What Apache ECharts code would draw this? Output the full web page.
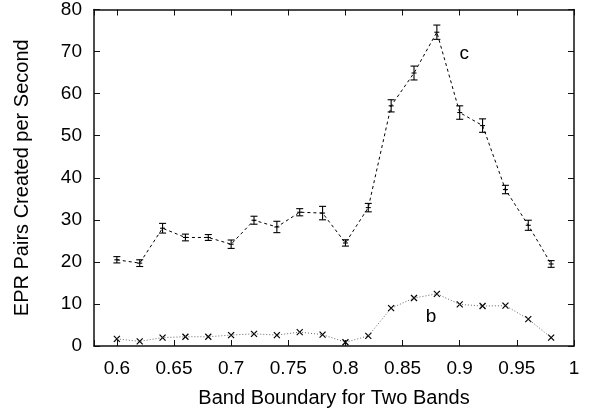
<!DOCTYPE html>
<html>
<head>
<meta charset="utf-8">
<script src="https://cdn.jsdelivr.net/npm/echarts@6/dist/echarts.min.js"></script>
<style>
html,body{margin:0;padding:0;background:#fff;}
#chart{width:593px;height:415px;}
</style>
</head>
<body>
<div id="chart"></div>
<script>
const xValues = [0.60,0.62,0.64,0.66,0.68,0.70,0.72,0.74,0.76,0.78,0.80,0.82,0.84,0.86,0.88,0.90,0.92,0.94,0.96,0.98];
const cValues = [20.5,19.7,28.0,25.8,25.8,24.2,29.9,28.3,31.8,31.6,24.5,32.9,57.1,64.9,74.6,55.5,52.4,37.2,28.7,19.5];
const cErrors = [0.75,0.8,1.15,0.8,0.7,1.0,0.95,1.35,0.85,1.6,0.75,1.0,1.45,1.65,1.7,1.6,1.6,1.0,1.2,0.8];
const bValues = [1.7,1.1,2.0,2.2,2.2,2.6,2.9,2.6,3.3,2.7,0.9,2.4,9.0,11.4,12.4,9.9,9.5,9.6,6.4,2.0];
const xTitle = 'Band Boundary for Two Bands';
const yTitle = 'EPR Pairs Created per Second';
const curveLabels = [{text:'c', x:0.904, y:69.5},{text:'b', x:0.875, y:6.9}];

const FONT = 'Liberation Sans';
const chart = echarts.init(document.getElementById('chart'), null, {renderer:'canvas'});

const cData = xValues.map((x,i)=>[x, cValues[i], cErrors[i]]);
const bData = xValues.map((x,i)=>[x, bValues[i]]);

function fmtX(v){
  const r = Math.round(v*100);
  if (r % 5 !== 0) return '';
  return String(+v.toFixed(2));
}
const axisLineStyle = {color:'#111', width:1.5};
const commonX = {type:'value', min:0.58, max:1.0, minInterval:0.05, maxInterval:0.05, splitLine:{show:false}};
const commonY = {type:'value', min:0, max:80, interval:10, splitLine:{show:false}};

const option = {
  animation:false,
  backgroundColor:'#fff',
  grid:{left:94, right:19, top:7, bottom:69},
  xAxis:[
    Object.assign({}, commonX, {position:'bottom', name:xTitle, nameLocation:'middle', nameGap:42,
      nameTextStyle:{fontFamily:FONT, fontSize:20, color:'#000'},
      axisLine:{show:true, onZero:false, lineStyle:axisLineStyle},
      axisTick:{show:true, inside:true, length:6, lineStyle:{color:'#111', width:1}},
      axisLabel:{fontFamily:FONT, fontSize:19, color:'#000', margin:13, formatter:fmtX}}),
    Object.assign({}, commonX, {position:'top',
      axisLine:{show:true, onZero:false, lineStyle:axisLineStyle},
      axisTick:{show:true, inside:true, length:6, lineStyle:{color:'#111', width:1}},
      axisLabel:{show:false}})
  ],
  yAxis:[
    Object.assign({}, commonY, {position:'left', name:yTitle, nameLocation:'middle', nameGap:62,
      nameTextStyle:{fontFamily:FONT, fontSize:20, color:'#000'},
      axisLine:{show:true, onZero:false, lineStyle:axisLineStyle},
      axisTick:{show:true, inside:true, length:6, lineStyle:{color:'#111', width:1}},
      axisLabel:{fontFamily:FONT, fontSize:19, color:'#000', margin:12}}),
    Object.assign({}, commonY, {position:'right',
      axisLine:{show:true, onZero:false, lineStyle:axisLineStyle},
      axisTick:{show:true, inside:true, length:6, lineStyle:{color:'#111', width:1}},
      axisLabel:{show:false}})
  ],
  series:[
    {
      type:'line', data:cData.map(d=>[d[0],d[1]]), symbol:'none',
      lineStyle:{color:'#000', width:1, type:[3,3]},
      markPoint:{
        symbol:'circle', symbolSize:0,
        label:{show:true, fontFamily:FONT, fontSize:19, color:'#000', position:'inside'},
        data:curveLabels.map(l=>({coord:[l.x,l.y], value:l.text, label:{formatter:l.text}}))
      }
    },
    {
      type:'custom', data:cData,
      renderItem:function(params, api){
        const x = api.value(0), y = api.value(1), e = api.value(2);
        const p = api.coord([x,y]);
        const hi = api.coord([x,y+e]);
        const lo = api.coord([x,y-e]);
        const cap = 3.5, ph = 2.5;
        const st = {stroke:'#000', lineWidth:1.1};
        return {type:'group', children:[
          {type:'line', shape:{x1:p[0],y1:hi[1],x2:p[0],y2:lo[1]}, style:st},
          {type:'line', shape:{x1:p[0]-cap,y1:hi[1],x2:p[0]+cap,y2:hi[1]}, style:st},
          {type:'line', shape:{x1:p[0]-cap,y1:lo[1],x2:p[0]+cap,y2:lo[1]}, style:st},
          {type:'line', shape:{x1:p[0]-ph,y1:p[1],x2:p[0]+ph,y2:p[1]}, style:st}
        ]};
      }
    },
    {
      type:'line', data:bData, symbol:'none',
      lineStyle:{color:'#666', width:1, type:[1,2]}
    },
    {
      type:'custom', data:bData,
      renderItem:function(params, api){
        const p = api.coord([api.value(0), api.value(1)]);
        const s = 3;
        const st = {stroke:'#000', lineWidth:1.2};
        return {type:'group', children:[
          {type:'line', shape:{x1:p[0]-s,y1:p[1]-s,x2:p[0]+s,y2:p[1]+s}, style:st},
          {type:'line', shape:{x1:p[0]-s,y1:p[1]+s,x2:p[0]+s,y2:p[1]-s}, style:st}
        ]};
      }
    }
  ]
};
chart.setOption(option);
</script>
</body>
</html>
